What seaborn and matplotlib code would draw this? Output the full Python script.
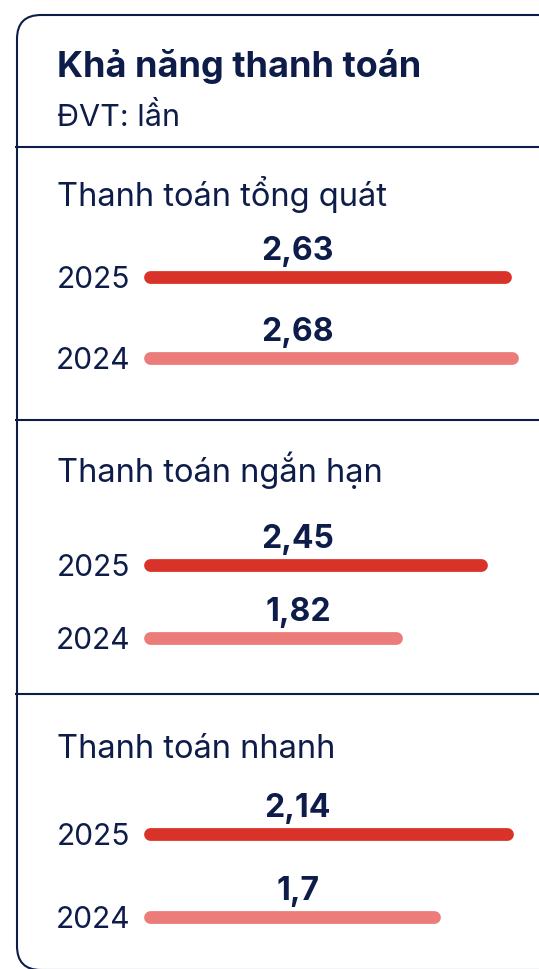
import pandas as pd
import matplotlib
matplotlib.use('Agg')
import matplotlib.pyplot as plt
import seaborn as sns
from matplotlib.patches import FancyBboxPatch

# Data
title = 'Khả năng thanh toán'
unit = 'ĐVT: lần'
sections = ['Thanh toán tổng quát', 'Thanh toán ngắn hạn', 'Thanh toán nhanh']
years = ['2025', '2024']
values_2025 = [2.63, 2.45, 2.14]
values_2024 = [2.68, 1.82, 1.70]
labels_2025 = ['2,63', '2,45', '2,14']
labels_2024 = ['2,68', '1,82', '1,7']

# Style / layout (pixels)
navy = '#0e1c4a'
palette = {'2025': '#d93229', '2024': '#ec7c7a'}
W, H = 539, 969
dividers = [147, 420, 694]
name_base = [206, 482, 758]
rows_px = [(277, 358), (565, 638), (834, 917)]
xmax = [2.88, 2.88, 2.33]
bar_left = 149.5

sns.set_theme(style='white')
plt.rcParams['font.family'] = ['Inter', 'DejaVu Sans']

fig = plt.figure(figsize=(W / 100, H / 100), dpi=100)
fig.patch.set_facecolor('white')

# background layer for frame and text
bg = fig.add_axes([0, 0, 1, 1])
bg.set_xlim(0, W)
bg.set_ylim(H, 0)
bg.axis('off')
bg.add_patch(FancyBboxPatch((17, 15), 560, 955, boxstyle='round,pad=0,rounding_size=24',
                            fill=False, ec=navy, lw=1.5))
bg.hlines(dividers, 15, W, color=navy, lw=1.5)
bg.text(57, 77, title, fontsize=26, fontweight='bold', color=navy, va='baseline')
bg.text(57, 126, unit, fontsize=22, color=navy, va='baseline')

for i, name in enumerate(sections):
    bg.text(57, name_base[i], name, fontsize=23.5, color=navy, va='baseline')

    ya, yb = rows_px[i]
    gap = yb - ya
    top = ya - gap / 2
    ax = fig.add_axes([bar_left / W, 1 - (top + 2 * gap) / H, (W - bar_left) / W, 2 * gap / H])
    ax.patch.set_alpha(0)

    vals = [values_2025[i], values_2024[i]]
    df = pd.DataFrame({
        'year': years * 2,
        'row': [0, 1, 0, 1],
        'x': [0, 0] + vals,
    })
    sns.lineplot(data=df, x='x', y='row', hue='year', palette=palette, units='year',
                 estimator=None, sort=False, lw=9.2, solid_capstyle='round',
                 clip_on=False, legend=False, ax=ax)

    for r, lab in enumerate([labels_2025[i], labels_2024[i]]):
        ax.annotate(lab, xy=(0.381, r), xycoords=('axes fraction', 'data'),
                    xytext=(0, 12), textcoords='offset points', ha='center', va='baseline',
                    fontsize=23, fontweight='bold', color=navy)

    ax.set_xlim(0, xmax[i])
    ax.set_ylim(1.5, -0.5)
    ax.set_yticks([0, 1])
    ax.set_yticklabels(years)
    ax.set_xticks([])
    ax.tick_params(axis='y', length=0, pad=14, labelsize=21.5, labelcolor=navy)
    ax.set_xlabel('')
    ax.set_ylabel('')
    sns.despine(ax=ax, left=True, bottom=True)

fig.savefig('out.png', dpi=100)
